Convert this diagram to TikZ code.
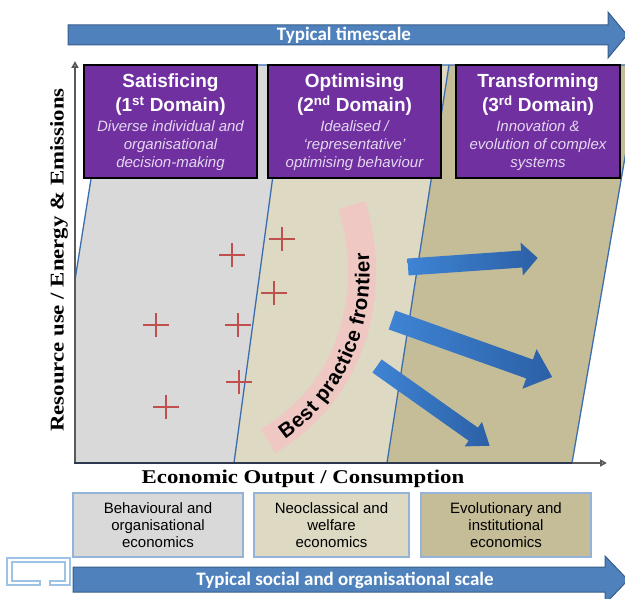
\documentclass[tikz,border=0pt]{standalone}
\usepackage{fontspec}
\newfontfamily\arialf{Liberation Sans}
\newfontfamily\calibrif{Carlito}
\newfontfamily\timesf{Liberation Serif}
\usetikzlibrary{arrows.meta,decorations.text}

\definecolor{slideblue}{RGB}{79,129,189}
\definecolor{slideblueborder}{RGB}{56,93,138}
\definecolor{regiongrey}{RGB}{217,217,217}
\definecolor{regionbeige}{RGB}{221,217,195}
\definecolor{regionkhaki}{RGB}{196,189,151}
\definecolor{regionedge}{RGB}{60,110,175}
\definecolor{domainpurple}{RGB}{112,48,160}
\definecolor{italiclav}{RGB}{228,216,240}
\definecolor{plusred}{RGB}{192,80,77}
\definecolor{bandpink}{RGB}{240,200,195}
\definecolor{axisgrey}{RGB}{89,89,89}
\definecolor{axisdark}{RGB}{45,55,80}
\definecolor{boxedge}{RGB}{149,179,215}
\definecolor{arrowlight}{RGB}{62,132,212}
\definecolor{arrowdark}{RGB}{44,96,166}
\definecolor{iconblue}{RGB}{157,195,230}

\newcommand\titlefnt{\arialf\bfseries\fontsize{19}{24}\selectfont}
\newcommand\descfnt{\arialf\itshape\fontsize{15}{18}\selectfont}
\newcommand\bandfnt{\arialf\bfseries\fontsize{20.5}{23}\selectfont}
\newcommand\axistext[1]{\scalebox{1.17}[1]{#1}}

\tikzset{
  domainbox/.style={draw=black, line width=1.8pt, fill=domainpurple, minimum height=113pt, inner sep=0pt},
  domaintitle/.style={align=center, text=white, font=\titlefnt, inner sep=0pt},
  domaindesc/.style={align=center, text=italiclav, font=\descfnt, inner sep=0pt},
  econbox/.style={draw=boxedge, line width=1.2pt, minimum height=64pt, inner sep=0pt, align=center, font=\arialf\fontsize{15}{17}\selectfont},
  scalearrow/.style={fill=slideblue, draw=slideblueborder, line width=1pt},
  scaletext/.style={text=white, font=\calibrif\bfseries\fontsize{19}{22}\selectfont, inner sep=0pt},
  regionline/.style={draw=regionedge, line width=1.3pt},
  axisline/.style={draw=axisgrey, line width=2pt},
  axislabel/.style={font=\timesf\bfseries\fontsize{19.5}{22}\selectfont, inner sep=0pt},
  plussign/.pic={\draw[draw=plusred, line width=2.8pt] (-13,0) -- (13,0) (0,-12) -- (0,12);},
  shiftarrow/.style={left color=arrowlight, right color=arrowdark, draw=none},
}

\begin{document}
\begin{tikzpicture}[x=1pt,y=-1pt]
\useasboundingbox (0,0) rectangle (625,599);
\clip (0,0) rectangle (625,599);

% top arrow
\filldraw[scalearrow] (68,25) -- (608,25) -- (608,12) -- (627,35) -- (608,58) -- (608,45) -- (68,45) -- cycle;
\node[scaletext] (timescale) at (344,35) {Typical timescale};

% regions
\fill[regiongrey] (75,463) -- (75,280) -- (109,65) -- (288,65) -- (234,463) -- cycle;
\fill[regionbeige] (234,463) -- (288,65) -- (449,65) -- (387,463) -- cycle;
\fill[regionkhaki] (387,463) -- (449,65) -- (641,65) -- (572,463) -- cycle;
\draw[regionline] (75,280) -- (109,65) -- (641,65);
\draw[regionline] (288,65) -- (234,463);
\draw[regionline] (449,65) -- (387,463);
\draw[regionline] (641,65) -- (572,463);

% best practice band
\draw[bandpink, line width=28pt] (268,441) .. controls (355,390) and (378,290) .. (352,205);
\path[decorate, decoration={text along path, text={|\bandfnt|Best practice frontier}, text align={left indent=15pt}, raise=-7.5pt}]
  (268,441) .. controls (355,390) and (378,290) .. (352,205);

% plus marks
\pic at (232,255) {plussign};
\pic at (282,239) {plussign};
\pic at (274,293) {plussign};
\pic at (156,325) {plussign};
\pic at (238,325) {plussign};
\pic at (239,382) {plussign};
\pic at (166,407) {plussign};

% shift arrows
\begin{scope}[shift={(408,267)}, rotate=4]
  \shade[shiftarrow] (0,-8.5) -- (114,-8.5) -- (114,-16.5) -- (130,0) -- (114,16.5) -- (114,8.5) -- (0,8.5) -- cycle;
\end{scope}
\begin{scope}[shift={(392,320)}, rotate=-19.6]
  \shade[shiftarrow] (0,-10) -- (146,-10) -- (146,-21) -- (170,0) -- (146,21) -- (146,10) -- (0,10) -- cycle;
\end{scope}
\begin{scope}[shift={(377,366)}, rotate=-35.3]
  \shade[shiftarrow] (0,-8) -- (118,-8) -- (118,-15) -- (138,0) -- (118,15) -- (118,8) -- (0,8) -- cycle;
\end{scope}

% axes
\draw[axisline, -{Triangle[open, length=7pt, width=7pt]}] (75,464) -- (75,61);
\draw[axisline, -{Triangle[open, length=7pt, width=7pt]}] (74,463) -- (607,463);
\draw[draw=axisdark, line width=1.6pt] (74,463) -- (572,463);

% domain boxes
\node[domainbox, minimum width=173pt] (dom1) at (170.5,121.5) {};
\node[domaintitle] (dom1t) at (170.5,95) {Satisficing\\(1\textsuperscript{st} Domain)};
\node[domaindesc] (dom1d) at (170.5,146) {Diverse individual and\\organisational\\decision-making};

\node[domainbox, minimum width=173pt] (dom2) at (354.5,121.5) {};
\node[domaintitle] (dom2t) at (354.5,95) {Optimising\\(2\textsuperscript{nd} Domain)};
\node[domaindesc] (dom2d) at (354.5,146) {Idealised /\\‘representative’\\optimising behaviour};

\node[domainbox, minimum width=164pt] (dom3) at (538,121.5) {};
\node[domaintitle] (dom3t) at (538,95) {Transforming\\(3\textsuperscript{rd} Domain)};
\node[domaindesc] (dom3d) at (538,146) {Innovation \&\\evolution of complex\\systems};

% axis labels
\node[axislabel, rotate=90] (ylab) at (59,260) {\axistext{Resource use / Energy \& Emissions}};
\node[axislabel] (xlab) at (303,479) {\axistext{Economic Output / Consumption}};

% economics boxes
\node[econbox, fill=regiongrey, minimum width=170pt] (econ1) at (158,525) {Behavioural and\\organisational\\economics};
\node[econbox, fill=regionbeige, minimum width=155pt] (econ2) at (331.5,525) {Neoclassical and\\welfare\\economics};
\node[econbox, fill=regionkhaki, minimum width=170pt] (econ3) at (506,525) {Evolutionary and\\institutional\\economics};

% icon
\draw[draw=iconblue, line width=1.2pt] (40,585) -- (7,585) -- (7,558) -- (70,558) -- (70,585) -- (50,585) -- (50,581) -- (65,581) -- (65,562) -- (12,562) -- (12,581) -- (40,581) -- cycle;

% bottom arrow
\filldraw[scalearrow] (73,567) -- (605,567) -- (605,556) -- (628,580) -- (605,604) -- (605,592) -- (73,592) -- cycle;
\node[scaletext] (socialscale) at (345,580) {Typical social and organisational scale};
\end{tikzpicture}
\end{document}
